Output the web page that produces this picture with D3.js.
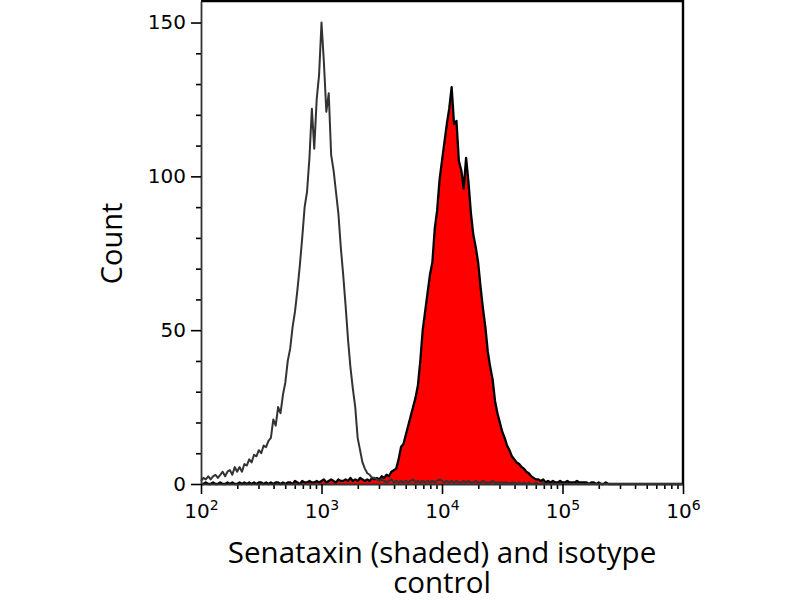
<!DOCTYPE html>
<html>
<head>
<meta charset="utf-8">
<script src="https://cdn.jsdelivr.net/npm/d3@7"></script>
<style>
  body { margin: 0; background: #fff; }
  svg { display: block; }
</style>
</head>
<body>
<svg id="chart" width="800" height="600"></svg>
<script>
// histogram channels: log10 start and bin width
var binStart = 2;
var binStep = 0.02;

// isotype control (open trace), one value per bin from 10^2 to 10^6
var isotype = [
  1, 2, 1.5, 2.5, 1.5, 2.5, 3, 2, 3, 4,
  2.5, 4, 4.5, 3, 5.5, 4, 5.5, 4, 6.5, 6,
  8, 7, 9.5, 9, 11, 10, 12.5, 12, 14, 15,
  21, 19, 25, 23, 29, 33, 40, 44, 51, 56,
  63, 71, 80, 90, 95, 106, 122, 109, 125, 133,
  150, 137, 121, 127, 107, 102, 95, 88, 77, 68,
  58, 47, 38, 31, 25, 15, 11, 7, 5, 3.5,
  3, 2, 2, 1.5, 1, 1.5, 1, 0.5, 1, 1.5,
  0.5, 1, 0.5, 1, 0.5, 1, 0.5, 1, 1.5, 0.5,
  1, 0.5, 1, 0.5, 1, 0.5, 1, 0.5, 1, 1.5,
  1, 0.5, 1, 0.5, 1, 0.5, 1, 0.5, 0.5, 1,
  0.5, 1, 0.5, 0.5, 1, 0.5, 0.5, 1, 0.5, 0.5,
  0.5, 1, 0.5, 0.5, 0.5, 0.5, 0.5, 0.5, 0, 0.5,
  0.5, 0, 0.5, 0, 0.5, 0, 0.5, 0, 0, 0.5,
  0, 0, 0.5, 0, 0, 0, 0, 0, 0, 0,
  0, 0, 0, 0, 0, 0, 0, 0, 0, 0,
  0, 0, 0, 0, 0, 0, 0, 0, 0, 0,
  0, 0, 0, 0, 0, 0, 0, 0, 0, 0,
  0, 0, 0, 0, 0, 0, 0, 0, 0, 0,
  0, 0, 0, 0, 0, 0, 0, 0, 0, 0,
  0
];

// Senataxin (shaded trace)
var senataxin = [
  0, 0, 0.5, 0, 0, 0.5, 0, 0, 0.5, 0,
  0, 0.5, 0, 0.5, 0, 0, 0.5, 0, 0.5, 0,
  0.5, 0, 0.5, 0, 0.5, 0.5, 0, 0.5, 0, 0.5,
  0, 0.5, 0.5, 0, 0.5, 0, 0.5, 0.5, 0, 1,
  0.5, 0, 1, 0.5, 0.5, 1, 0.5, 0.5, 1, 0.5,
  1, 1.5, 0.5, 1, 1.5, 1, 0.5, 1.5, 1, 1,
  1.5, 1, 2, 1, 1.5, 1, 2, 1.5, 1, 1.5,
  1, 2, 1.5, 2, 1.5, 2.5, 2, 3, 2.5, 4,
  4.5, 5, 8, 12, 13, 16, 19, 22, 25, 28,
  32, 40, 50, 56, 62, 68, 72, 83, 89, 99,
  105, 111, 117, 122, 129, 117, 118, 105, 102, 96,
  106, 98, 88, 81, 77, 72, 64, 57, 51, 43,
  38, 34, 27, 23, 20, 17, 15, 12.5, 11, 9,
  8, 7, 6.5, 5.5, 5, 4, 3.5, 2.5, 2, 1.5,
  1.5, 1, 1.5, 0.5, 1, 0.5, 1, 0.5, 0.5, 1,
  0.5, 0.5, 1, 0.5, 0.5, 0.5, 1, 0.5, 0.5, 0.5,
  0.5, 0, 0.5, 0.5, 0, 0.5, 0, 0, 0.5, 0,
  0, 0, 0, 0, 0, 0, 0, 0, 0, 0,
  0, 0, 0, 0, 0, 0, 0, 0, 0, 0,
  0, 0, 0, 0, 0, 0, 0, 0, 0, 0,
  0
];

var xDecades = [1e2, 1e3, 1e4, 1e5, 1e6];
var yMajor = [0, 50, 100, 150];
var yMinor = [10, 20, 30, 40, 60, 70, 80, 90, 110, 120, 130, 140];

var xTitle = ["Senataxin (shaded) and isotype", "control"];
var yTitle = "Count";

var plotLeft = 201, plotRight = 683, plotTop = 1, plotBottom = 484;

var svg = d3.select("#chart");

var x = d3.scaleLog().domain([1e2, 1e6]).range([plotLeft, plotRight]);
var y = d3.scaleLinear().domain([0, 157]).range([plotBottom, plotTop]);

// bin index -> channel value
function toPoints(counts){
    return counts.map(function(c, i){
        return { v: Math.pow(10, binStart + i * binStep), c: c };
    });
}

var senPts = toPoints(senataxin);
var isoPts = toPoints(isotype);

var area = d3.area()
    .x(function(d){ return x(d.v); })
    .y0(y(0))
    .y1(function(d){ return y(d.c); });

var line = d3.line()
    .x(function(d){ return x(d.v); })
    .y(function(d){ return y(d.c); });

svg.append("path")
    .datum(senPts)
    .attr("d", area)
    .attr("fill", "#ff0000");

svg.append("path")
    .datum(senPts)
    .attr("d", line)
    .attr("fill", "none")
    .attr("stroke", "#000")
    .attr("stroke-width", 2.3)
    .attr("stroke-linejoin", "round");

svg.append("path")
    .datum(isoPts)
    .attr("d", line)
    .attr("fill", "none")
    .attr("stroke", "#333")
    .attr("stroke-width", 2)
    .attr("stroke-linejoin", "round");

// frame top & right
svg.append("path")
    .attr("d", "M" + plotLeft + "," + plotTop + "H" + plotRight + "V" + plotBottom)
    .attr("fill", "none")
    .attr("stroke", "#000")
    .attr("stroke-width", 2.4);

// y axis
var yMinorAxis = svg.append("g")
    .attr("transform", "translate(" + plotLeft + ",0)")
    .call(d3.axisLeft(y).tickValues(yMinor).tickSize(5).tickSizeOuter(0).tickFormat(""));
yMinorAxis.select(".domain").remove();

var yAxis = svg.append("g")
    .attr("transform", "translate(" + plotLeft + ",0)")
    .call(d3.axisLeft(y).tickValues(yMajor).tickSize(10).tickPadding(5).tickSizeOuter(0));

// x axis minor ticks 2..9 in each decade
var xMinor = [];
xDecades.slice(0, -1).forEach(function(d){
    for (var k = 2; k < 10; k++) xMinor.push(d * k);
});

var xMinorAxis = svg.append("g")
    .attr("transform", "translate(0," + plotBottom + ")")
    .call(d3.axisBottom(x).tickValues(xMinor).tickSize(5).tickSizeOuter(0).tickFormat(""));
xMinorAxis.select(".domain").remove();

var xAxis = svg.append("g")
    .attr("transform", "translate(0," + plotBottom + ")")
    .call(d3.axisBottom(x).tickValues(xDecades).tickSize(10).tickSizeOuter(0).tickFormat(function(){ return "10"; }));

svg.selectAll(".tick line").attr("stroke", "#000").attr("stroke-width", 1.6);
svg.selectAll(".domain").attr("stroke", "#333").attr("stroke-width", 1.8);
svg.selectAll(".tick text")
    .attr("font-family", "DejaVu Sans, sans-serif")
    .attr("font-size", 20)
    .attr("fill", "#000");

xAxis.selectAll(".tick text")
    .attr("y", 34)
    .attr("dy", 0)
    .append("tspan")
    .attr("dy", -8)
    .attr("font-size", 14)
    .text(function(d){ return Math.round(Math.log10(d)); });

// axis titles
svg.append("text")
    .attr("transform", "translate(122,243.5) rotate(-90)")
    .attr("text-anchor", "middle")
    .attr("font-family", "Open Sans, sans-serif")
    .attr("font-size", 29)
    .text(yTitle);

svg.append("g").selectAll("text")
    .data(xTitle)
    .enter().append("text")
    .attr("x", 442)
    .attr("y", function(d, i){ return 563 + i * 30; })
    .attr("text-anchor", "middle")
    .attr("font-family", "Open Sans, sans-serif")
    .attr("font-size", 29.5)
    .text(function(d){ return d; });
</script>
</body>
</html>
